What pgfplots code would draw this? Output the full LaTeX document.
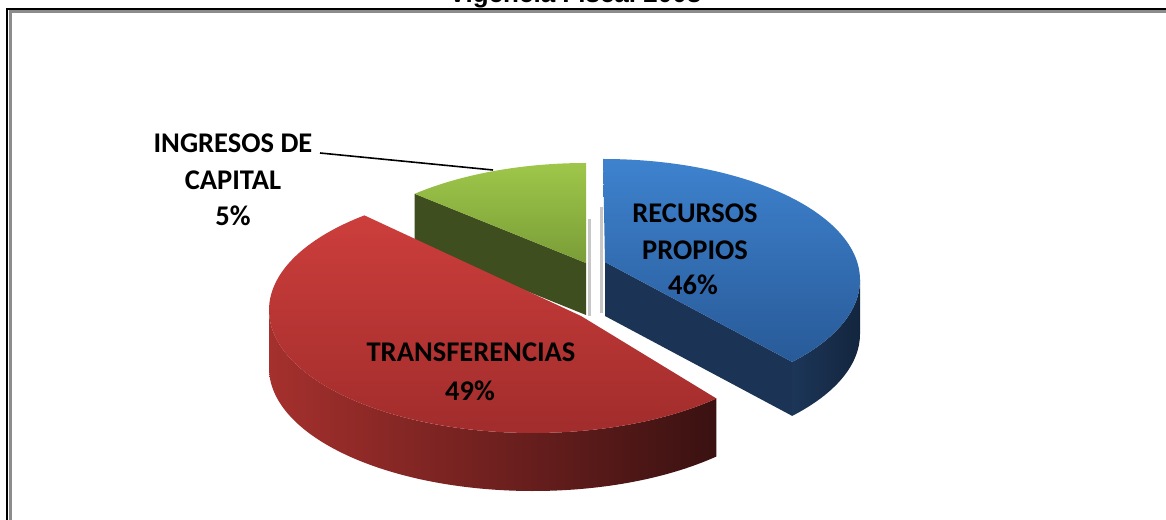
\documentclass[border=0pt]{standalone}
\usepackage{pgfplots}
\usepackage{pgfplotstable}
\pgfplotsset{compat=1.18}
\usepackage{fontspec}
\setmainfont{Carlito}
\newfontfamily\arialfont{Liberation Sans}

% value = share in percent (label); geometry of each slice (pixels, y up)
\pgfplotstableread{
key   value cx  cy  a   b   vx  vy  ta    tb    sa    sb  h
Blue  46    603 239 257 121 605 257 90    -42.6 -42.6 0   54
Red   49    533 209 264 123 581 203 129.7 314   180   314 58
Grn   5     586 235 257 121 586 256 90    131.8 0     0   52
}\piedata

\definecolor{bluetop}{RGB}{62,130,206}
\definecolor{bluebot}{RGB}{40,90,152}
\definecolor{bluecut}{RGB}{27,52,86}
\definecolor{blueside1}{RGB}{28,54,88}
\definecolor{blueside2}{RGB}{19,37,62}
\definecolor{redtop}{RGB}{204,62,60}
\definecolor{redbot}{RGB}{160,44,43}
\definecolor{redside1}{RGB}{165,48,45}
\definecolor{redside2}{RGB}{58,17,17}
\definecolor{grntop}{RGB}{158,199,74}
\definecolor{grnbot}{RGB}{122,157,55}
\definecolor{grncut}{RGB}{63,78,30}
\definecolor{framegray}{RGB}{140,140,140}

\newcommand\gv[3]{\pgfplotstablegetelem{#1}{#2}\of\piedata\expandafter\xdef\csname #3#2\endcsname{\pgfplotsretval}}
\newcommand\ellpt[3]{%
  \pgfmathparse{\csname#1cx\endcsname+\csname#1a\endcsname*cos(#2)}\expandafter\xdef\csname#1#3x\endcsname{\pgfmathresult}%
  \pgfmathparse{\csname#1cy\endcsname+\csname#1b\endcsname*sin(#2)}\expandafter\xdef\csname#1#3y\endcsname{\pgfmathresult}}
\newcommand\loadslice[2]{%
  \gv{#1}{value}{#2}\gv{#1}{cx}{#2}\gv{#1}{cy}{#2}\gv{#1}{a}{#2}\gv{#1}{b}{#2}%
  \gv{#1}{vx}{#2}\gv{#1}{vy}{#2}\gv{#1}{ta}{#2}\gv{#1}{tb}{#2}%
  \gv{#1}{sa}{#2}\gv{#1}{sb}{#2}\gv{#1}{h}{#2}%
  \ellpt{#2}{\csname#2ta\endcsname}{P}%
  \ellpt{#2}{\csname#2tb\endcsname}{E}%
  \ellpt{#2}{\csname#2sa\endcsname}{Q}%
  \pgfmathparse{\csname#2vy\endcsname-\csname#2h\endcsname}\expandafter\xdef\csname#2Vlo\endcsname{\pgfmathresult}}

\newcommand\topface[3]{\shade[top color=#2,bottom color=#3]
  (axis cs:\csname#1vx\endcsname,\csname#1vy\endcsname) --
  (axis cs:\csname#1Px\endcsname,\csname#1Py\endcsname)
  arc[start angle=\csname#1ta\endcsname,end angle=\csname#1tb\endcsname,
      x radius=\csname#1a\endcsname pt,y radius=\csname#1b\endcsname pt] -- cycle;}
\newcommand\sideface[3]{\shade[left color=#2,right color=#3]
  (axis cs:\csname#1Qx\endcsname,\csname#1Qy\endcsname)
  arc[start angle=\csname#1sa\endcsname,end angle=\csname#1sb\endcsname,
      x radius=\csname#1a\endcsname pt,y radius=\csname#1b\endcsname pt]
  -- ++(0pt,-\csname#1h\endcsname pt)
  arc[start angle=\csname#1sb\endcsname,end angle=\csname#1sa\endcsname,
      x radius=\csname#1a\endcsname pt,y radius=\csname#1b\endcsname pt] -- cycle;}
\newcommand\cutface[2]{\fill[#2]
  (axis cs:\csname#1vx\endcsname,\csname#1vy\endcsname) --
  (axis cs:\csname#1Ex\endcsname,\csname#1Ey\endcsname) -- ++(0pt,-\csname#1h\endcsname pt) --
  (axis cs:\csname#1vx\endcsname,\csname#1Vlo\endcsname) -- cycle;}

\begin{document}
\begin{tikzpicture}
\loadslice{0}{Blue}\loadslice{1}{Red}\loadslice{2}{Grn}
\begin{axis}[x=1pt,y=1pt,xmin=0,xmax=1166,ymin=0,ymax=519,
  hide axis,clip=false,scale only axis]
% soft drop shadows
\fill[black!22] (axis cs:588,300) rectangle (axis cs:591,203);
\fill[black!22] (axis cs:600,312) rectangle (axis cs:603,206);
% green (back)
\cutface{Grn}{grncut}
\topface{Grn}{grntop}{grnbot}
% blue
\cutface{Blue}{bluecut}
\sideface{Blue}{blueside1}{blueside2}
\topface{Blue}{bluetop}{bluebot}
% red (front)
\sideface{Red}{redside1}{redside2}
\topface{Red}{redtop}{redbot}
% labels
\begin{scope}[every node/.style={anchor=base,inner sep=0pt,font=\fontsize{28.5}{34}\selectfont\bfseries}]
\node at (axis cs:233,366) {INGRESOS DE};
\node at (axis cs:233,329) {CAPITAL};
\node at (axis cs:233,293) {\Grnvalue\%};
\node at (axis cs:695,296) {RECURSOS};
\node at (axis cs:695,259) {PROPIOS};
\node at (axis cs:693,224) {\Bluevalue\%};
\node at (axis cs:471,157) {TRANSFERENCIAS};
\node at (axis cs:470,118) {\Redvalue\%};
\end{scope}
\draw[black,line width=1.6pt] (axis cs:320,366) -- (axis cs:493,349);
% frame
\draw[framegray,line width=2.6pt] (axis cs:10.5,-5) -- (axis cs:10.5,507.7) -- (axis cs:1175,507.7);
\draw[black,line width=2pt] (axis cs:7,-5) -- (axis cs:7,509.7) -- (axis cs:1175,509.7);
% title (cut off at the top, as in the reference)
\node[anchor=base,inner sep=0pt,font=\arialfont\bfseries\fontsize{26}{30}\selectfont] at (axis cs:575,516.5) {Vigencia Fiscal 2008};
\end{axis}
\pgfresetboundingbox
\path[use as bounding box] (current axis.south west) rectangle (current axis.north east);
\end{tikzpicture}
\end{document}
